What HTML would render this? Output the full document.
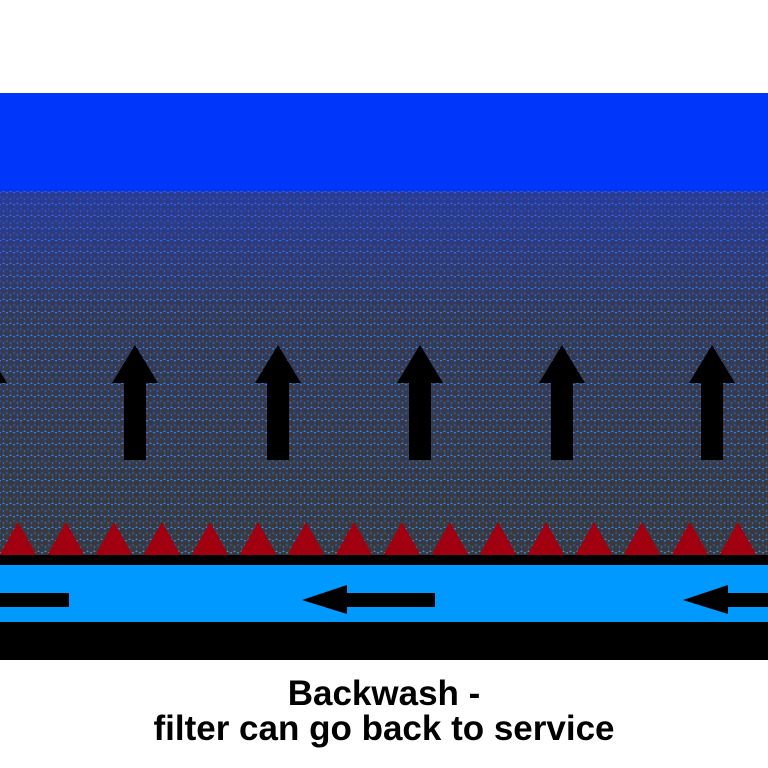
<!DOCTYPE html>
<html><head><style>
html,body{margin:0;padding:0;background:#fff;width:768px;height:768px;overflow:hidden}
.t{position:absolute;left:0;width:768px;text-align:center;font-family:"Liberation Sans",Arial,sans-serif;font-weight:bold;font-size:35px;line-height:40px;color:#000}
</style></head><body>
<svg width="768" height="768" style="position:absolute;left:0;top:0">
<defs>
<pattern id="p" width="14" height="12" patternUnits="userSpaceOnUse">
<rect width="14" height="12" fill="#2f8cf0"/>
<circle cx="3.5" cy="3" r="3.6" fill="#373a44"/>
<circle cx="10.5" cy="3" r="3.6" fill="#3a3838"/>
<circle cx="0" cy="9" r="3.6" fill="#383a40"/>
<circle cx="7" cy="9" r="3.6" fill="#3b3a3c"/>
<circle cx="14" cy="9" r="3.6" fill="#383a40"/>
</pattern>
<linearGradient id="g" x1="0" y1="0" x2="0" y2="1">
<stop offset="0" stop-color="#1a3cff" stop-opacity="0.45"/>
<stop offset="0.35" stop-color="#1a3cff" stop-opacity="0.12"/>
<stop offset="1" stop-color="#1a3cff" stop-opacity="0"/>
</linearGradient>
<polygon id="up" points="0,345 23,383 11,383 11,460 -11,460 -11,383 -23,383" fill="#000"/>
<polygon id="lf" points="0,600 45,585 45,593 133,593 133,607 45,607 45,614" fill="#000"/>
</defs>
<rect x="0" y="93" width="768" height="98" fill="#0036fa"/>
<rect x="0" y="191" width="768" height="365" fill="url(#p)"/>
<rect x="0" y="191" width="768" height="365" fill="url(#g)"/>
<use href="#up" x="-16"/>
<use href="#up" x="135"/>
<use href="#up" x="278"/>
<use href="#up" x="420"/>
<use href="#up" x="562"/>
<use href="#up" x="712"/>
<g fill="#a0000f">
<polygon points="-1,556 18,522 37,556"/>
<polygon points="47,556 66,522 85,556"/>
<polygon points="95,556 114,522 133,556"/>
<polygon points="143,556 162,522 181,556"/>
<polygon points="191,556 210,522 229,556"/>
<polygon points="239,556 258,522 277,556"/>
<polygon points="287,556 306,522 325,556"/>
<polygon points="335,556 354,522 373,556"/>
<polygon points="383,556 402,522 421,556"/>
<polygon points="431,556 450,522 469,556"/>
<polygon points="479,556 498,522 517,556"/>
<polygon points="527,556 546,522 565,556"/>
<polygon points="575,556 594,522 613,556"/>
<polygon points="623,556 642,522 661,556"/>
<polygon points="671,556 690,522 709,556"/>
<polygon points="719,556 738,522 757,556"/>
</g>
<rect x="0" y="555" width="768" height="10" fill="#000"/>
<rect x="0" y="565" width="768" height="57" fill="#0099ff"/>
<rect x="0" y="622" width="768" height="38" fill="#000"/>
<rect x="0" y="593" width="69" height="14" fill="#000"/>
<use href="#lf" x="302"/>
<use href="#lf" x="683"/>
</svg>
<div class="t" style="top:674px">Backwash -</div>
<div class="t" style="top:709px">filter can go back to service</div>
</body></html>
